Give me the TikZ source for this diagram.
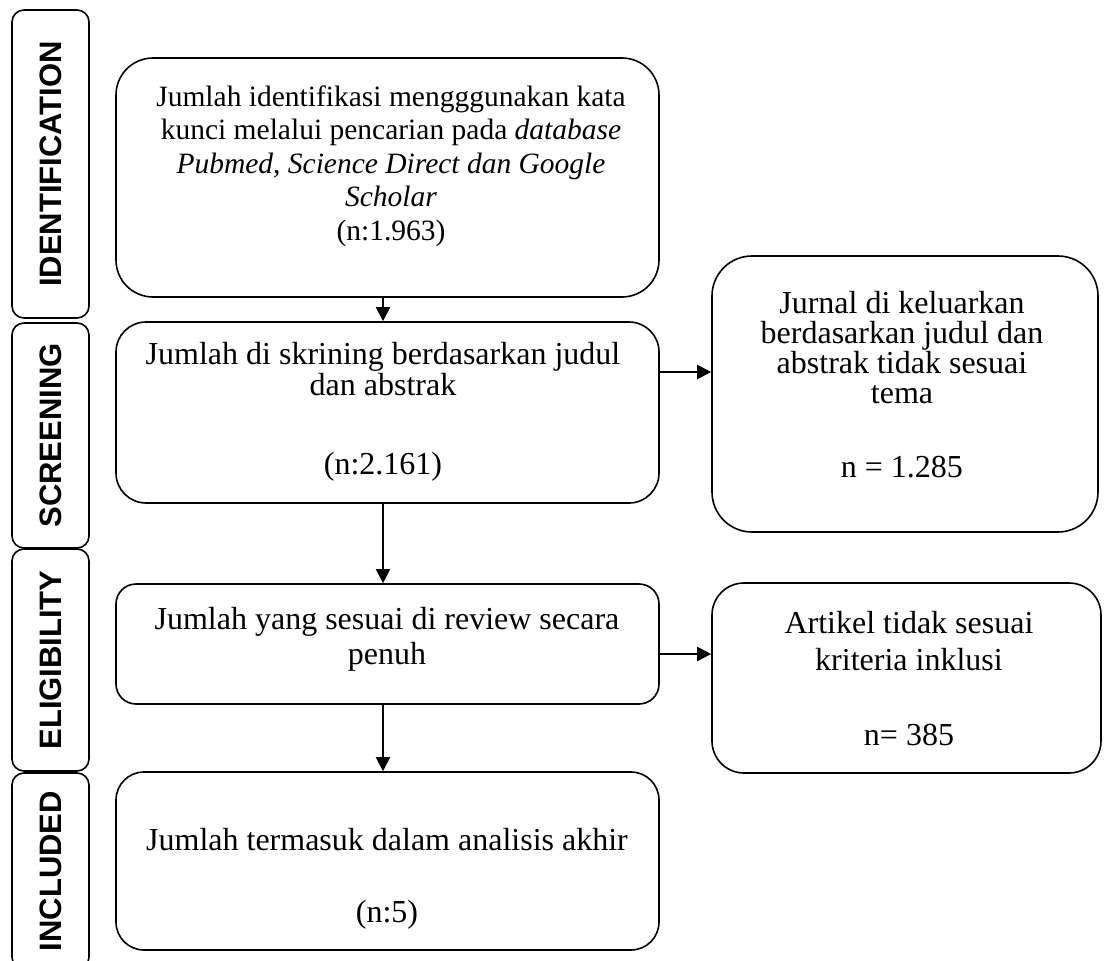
\documentclass[tikz,border=0pt]{standalone}
\usepackage{fontspec}
\setmainfont{Liberation Serif}
\setsansfont{Liberation Sans}
\usetikzlibrary{arrows.meta}

\tikzset{
  flowbox/.style={draw, line width=1.6pt, inner sep=0pt},
  boxtext/.style={align=center, inner sep=0pt, font=\fontsize{32}{31}\selectfont},
  phasetab/.style={draw, line width=1.6pt, rounded corners=12pt, rotate=90, minimum height=77pt, inner sep=0pt,
    font=\sffamily\bfseries\fontsize{31}{31}\selectfont},
  flowarrow/.style={-{Triangle[length=14pt,width=14pt]}, line width=2pt}
}

\begin{document}
\begin{tikzpicture}[x=1pt,y=-1pt]
        \useasboundingbox (0,0) rectangle (1104,961);

        % Phase tabs
        \begin{scope}
            \clip (0,0) rectangle (1104,961);
            \node[phasetab, minimum width=308pt] (tabid) at (50.5,164) {IDENTIFICATION};
            \node[phasetab, minimum width=225pt] (tabscr) at (50.5,435.5) {SCREENING};
            \node[phasetab, minimum width=222pt] (tabelig) at (50.5,660) {ELIGIBILITY};
            \node[phasetab, minimum width=196pt] (tabinc) at (50.5,871) {INCLUDED};
        \end{scope}

        % Main column
        \node[flowbox, minimum width=543pt, minimum height=239pt, rounded corners=37pt] (ident) at (387.5,177.5) {};
        \node[boxtext, font=\fontsize{29.5}{33.5}\selectfont] (identtxt) at (391,166)
            {Jumlah identifikasi mengggunakan kata\\kunci melalui pencarian pada \textit{database}\\
             \textit{Pubmed, Science Direct dan Google}\\\textit{Scholar}\\(n:1.963)};

        \node[flowbox, minimum width=543pt, minimum height=181pt, rounded corners=30pt] (screen) at (387.5,412.5) {};
        \node[boxtext] (screentxt) at (383,412)
            {Jumlah di skrining berdasarkan judul\\dan abstrak\\[48pt](n:2.161)};

        \node[flowbox, minimum width=543pt, minimum height=120pt, rounded corners=20pt] (elig) at (387.5,644) {};
        \node[boxtext, font=\fontsize{32}{35}\selectfont] (eligtxt) at (387,639.5)
            {Jumlah yang sesuai di review secara\\penuh};

        \node[flowbox, minimum width=543pt, minimum height=178pt, rounded corners=28pt] (incl) at (387.5,861) {};
        \node[boxtext] (incltxt) at (387,879)
            {Jumlah termasuk dalam analisis akhir\\[41pt](n:5)};

        % Excluded records
        \node[flowbox, minimum width=386pt, minimum height=276pt, rounded corners=40pt] (excl) at (905,394) {};
        \node[boxtext, font=\fontsize{32}{30}\selectfont] (excltxt) at (902,385)
            {Jurnal di keluarkan\\berdasarkan judul dan\\abstrak tidak sesuai\\tema\\[44pt]n = 1.285};

        \node[flowbox, minimum width=389pt, minimum height=190pt, rounded corners=32pt] (crit) at (906.5,678) {};
        \node[boxtext, font=\fontsize{32}{37}\selectfont] (crittxt) at (909,679)
            {Artikel tidak sesuai\\kriteria inklusi\\[38pt]n= 385};

        % Arrows
        \coordinate (midcol) at (383,0);
        \coordinate (exclrow) at (0,372);
        \coordinate (critrow) at (0,654);
        \draw[flowarrow] (ident.south -| midcol) -- (screen.north -| midcol);
        \draw[flowarrow] (screen.south -| midcol) -- (elig.north -| midcol);
        \draw[flowarrow] (elig.south -| midcol) -- (incl.north -| midcol);
        \draw[flowarrow] (screen.east |- exclrow) -- (excl.west |- exclrow);
        \draw[flowarrow] (elig.east |- critrow) -- (crit.west |- critrow);
\end{tikzpicture}
\end{document}
